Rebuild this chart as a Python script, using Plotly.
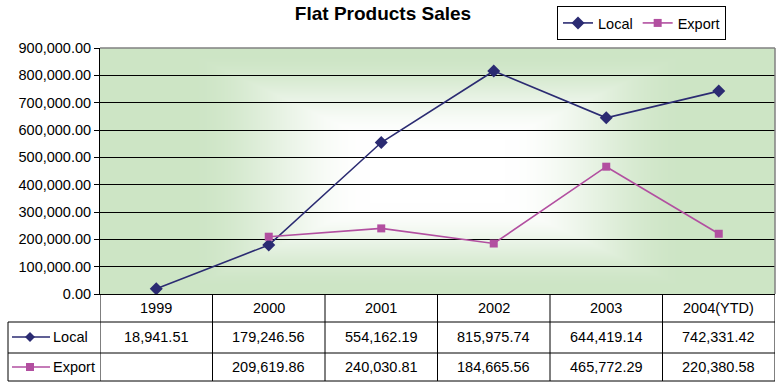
import base64
import struct
import zlib

import numpy as np
import plotly.graph_objects as go

# ---------------- data ----------------
years = ["1999", "2000", "2001", "2002", "2003", "2004(YTD)"]
local_sales = [18941.51, 179246.56, 554162.19, 815975.74, 644419.14, 742331.42]
export_sales = [None, 209619.86, 240030.81, 184665.56, 465772.29, 220380.58]
series_names = ["Local", "Export"]
y_ticks = [0, 100000, 200000, 300000, 400000, 500000, 600000, 700000, 800000, 900000]

# ---------------- layout constants ----------------
W, H = 780, 382
ML, MR, MT, MB = 100, 5, 48, 88
PW, PH = W - ML - MR, H - MT - MB
FONT = "Liberation Sans, Arial, sans-serif"
FS = 14.5
LOCAL_C = "#2b2b72"
EXPORT_C = "#b24fa0"
GREEN = np.array([205, 229, 197], dtype=float)


def px_x(px):
    return (px - ML) / PW


def px_y(py):
    return (H - MB - py) / PH


def png_data_uri(arr):
    h, w, _ = arr.shape
    raw = b"".join(b"\x00" + arr[r].tobytes() for r in range(h))

    def chunk(typ, data):
        return (struct.pack(">I", len(data)) + typ + data
                + struct.pack(">I", zlib.crc32(typ + data) & 0xFFFFFFFF))

    png = (b"\x89PNG\r\n\x1a\n"
           + chunk(b"IHDR", struct.pack(">IIBBBBB", w, h, 8, 2, 0, 0, 0))
           + chunk(b"IDAT", zlib.compress(raw, 9))
           + chunk(b"IEND", b""))
    return "data:image/png;base64," + base64.b64encode(png).decode()


# rectangular "from centre" gradient background (white centre, green edges)
gx = np.linspace(-1, 1, PW)[None, :]
gy = np.linspace(-1, 1, PH)[:, None]
t = np.maximum(np.abs(gx) / 1.0, np.abs(gy) / 1.3)
f = np.clip((t - 0.2) / 0.55, 0, 1)
f = f * f * (3 - 2 * f)
img = 255 + (GREEN[None, None, :] - 255) * f[:, :, None]
bg_uri = png_data_uri(np.clip(img, 0, 255).astype(np.uint8))

fig = go.Figure()
fig.add_trace(go.Scatter(
    x=years, y=local_sales, name=series_names[0], mode="lines+markers",
    line=dict(color=LOCAL_C, width=1.6),
    marker=dict(symbol="diamond", size=10, color=LOCAL_C),
))
fig.add_trace(go.Scatter(
    x=years, y=export_sales, name=series_names[1], mode="lines+markers",
    line=dict(color=EXPORT_C, width=1.6),
    marker=dict(symbol="square", size=8, color=EXPORT_C),
))

shapes = []
# plot-area border (grey top/right)
shapes.append(dict(type="line", xref="paper", yref="paper", x0=0, x1=1, y0=1, y1=1,
                   line=dict(color="#808080", width=1.5)))
shapes.append(dict(type="line", xref="paper", yref="paper", x0=1, x1=1, y0=0, y1=1,
                   line=dict(color="#808080", width=1.5)))

# data table lines
row_lines = [322, 353, 381]
for ry in row_lines:
    shapes.append(dict(type="line", xref="paper", yref="paper",
                       x0=px_x(8), x1=1, y0=px_y(ry), y1=px_y(ry),
                       line=dict(color="black", width=1)))
shapes.append(dict(type="line", xref="paper", yref="paper",
                   x0=px_x(8), x1=px_x(8), y0=px_y(322), y1=px_y(381),
                   line=dict(color="black", width=1)))
for k in range(len(years) + 1):
    shapes.append(dict(type="line", xref="x", yref="paper",
                       x0=k - 0.5, x1=k - 0.5, y0=0, y1=px_y(381),
                       line=dict(color="black", width=1)))

annotations = []
# header row and values
row_y = [308, 337, 367]
for i, yr in enumerate(years):
    annotations.append(dict(x=i, y=px_y(row_y[0]), xref="x", yref="paper", text=yr,
                            xanchor="center", yanchor="middle", showarrow=False,
                            font=dict(size=FS, color="black", family=FONT)))
for r, vals in enumerate([local_sales, export_sales]):
    for i, v in enumerate(vals):
        if v is None:
            continue
        annotations.append(dict(x=i, y=px_y(row_y[r + 1]), xref="x", yref="paper",
                                text=f"{v:,.2f}", showarrow=False,
                                xanchor="center", yanchor="middle",
                                font=dict(size=FS, color="black", family=FONT)))

# legend keys in table
key_colors = [LOCAL_C, EXPORT_C]
key_paths = ["M -5 0 L 0 5 L 5 0 L 0 -5 Z", "M -4 -4 L 4 -4 L 4 4 L -4 4 Z"]
for r, name in enumerate(series_names):
    cy = px_y(row_y[r + 1])
    shapes.append(dict(type="line", xref="paper", yref="paper",
                       x0=px_x(12), x1=px_x(50), y0=cy, y1=cy,
                       line=dict(color=key_colors[r], width=1.6)))
    shapes.append(dict(type="path", xref="paper", yref="paper",
                       xsizemode="pixel", ysizemode="pixel",
                       xanchor=px_x(30), yanchor=cy, path=key_paths[r],
                       fillcolor=key_colors[r], line=dict(width=0)))
    annotations.append(dict(x=px_x(51), y=cy, xref="paper", yref="paper", text=name,
                            xanchor="left", yanchor="middle", showarrow=False,
                            font=dict(size=FS, color="black", family=FONT)))

fig.update_layout(
    width=W, height=H,
    margin=dict(l=ML, r=MR, t=MT, b=MB),
    paper_bgcolor="white",
    plot_bgcolor="rgb(205,229,197)",
    font=dict(family=FONT, size=FS, color="black"),
    title=dict(text="<b>Flat Products Sales</b>", x=383 / W, xanchor="center",
               y=1 - 13 / H, yanchor="middle", xref="container", yref="container",
               font=dict(size=19, color="black", family=FONT)),
    legend=dict(orientation="h", x=px_x(557), y=px_y(6), xanchor="left", yanchor="top",
                bordercolor="black", borderwidth=1, bgcolor="white",
                font=dict(size=FS, family=FONT), itemwidth=30),
    images=[dict(source=bg_uri, xref="paper", yref="paper", x=0, y=1, sizex=1, sizey=1,
                 xanchor="left", yanchor="top", sizing="stretch", layer="below")],
    shapes=shapes,
    annotations=annotations,
    showlegend=True,
)
fig.update_xaxes(
    type="category", range=[-0.5, len(years) - 0.5], showticklabels=False,
    showgrid=False, showline=True, linecolor="black", linewidth=1, ticks="",
    zeroline=False, fixedrange=True,
)
fig.update_yaxes(
    range=[0, 900000], tickvals=y_ticks, tickformat=",.2f",
    showgrid=True, gridcolor="black", gridwidth=1,
    showline=True, linecolor="black", linewidth=1,
    ticks="outside", ticklen=5, tickcolor="black",
    zeroline=False, tickfont=dict(size=FS, family=FONT), fixedrange=True,
)

fig.write_html(
    "out.html",
    config={"displayModeBar": False},
    post_script="document.body.style.margin='0';document.body.style.padding='0';",
)
